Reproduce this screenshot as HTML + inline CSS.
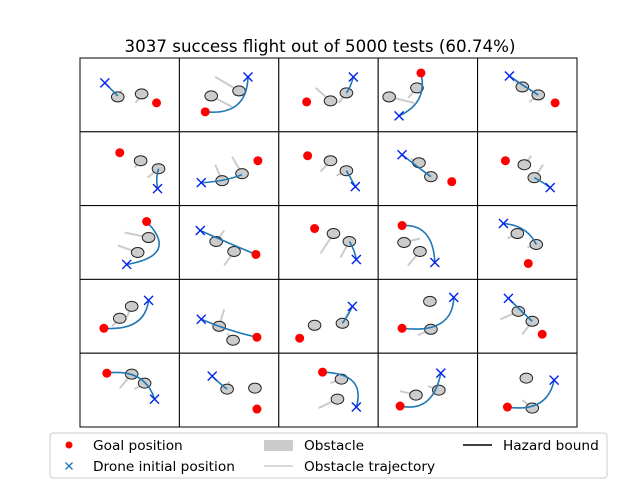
<!DOCTYPE html>
<html><head><meta charset="utf-8"><style>
body{margin:0;background:#fff;width:640px;height:480px;overflow:hidden}
svg{display:block;font-family:"DejaVu Sans","Liberation Sans",sans-serif}
</style></head><body>
<svg id="fig" width="640" height="480" viewBox="0 0 640 480">
<text x="320" y="52" text-anchor="middle" font-size="16.7" fill="#000">3037 success flight out of 5000 tests (60.74%)</text>
<g id="cells"></g>
<g>
<rect x="50" y="433" width="557" height="45" rx="3" fill="#fff" stroke="#ccc"/>
<circle cx="69" cy="445" r="3.5" fill="#ff0000"/>
<text x="93" y="450" font-size="13.7">Goal position</text>
<path d="M65.5 462.5l7 7M72.5 462.5l-7 7" stroke="#1f77b4" stroke-width="1.3"/>
<text x="93" y="471" font-size="13.7">Drone initial position</text>
<rect x="264" y="440" width="29" height="11" fill="#cccccc"/>
<text x="304" y="450" font-size="13.7">Obstacle</text>
<line x1="264" y1="466" x2="293" y2="466" stroke="#cccccc" stroke-width="1.5"/>
<text x="304" y="471" font-size="13.7">Obstacle trajectory</text>
<line x1="463" y1="445" x2="492" y2="445" stroke="#000" stroke-width="1.5"/>
<text x="503" y="450" font-size="13.7">Hazard bound</text>
</g>
</svg>
<script>
// per-cell data in local axis units (x 0-100, y 0-74)
const goals=[[77,45],[26,54],[28,44],[43,15],[78,45],
[40,21],[79,29],[29,24],[74,50],[28,29],
[67,16],[77,49],[36,23],[24,20],[51,58],
[24,49],[78,58],[21,59],[24,49],[65,55],
[27,20],[78,56],[44,19],[22,53],[30,54]];
const starts=[[25,25],[69,19],[75,19],[21,58],[32,18],
[78,57],[22,51],[77,55],[24,23],[73,56],
[47,59],[21,25],[78,54],[57,57],[26,18],
[69,21],[22,40],[74,27],[76,18],[31,19],
[75,46],[33,23],[78,54],[63,20],[77,27]];
const obstacles=[
[[38,39,42,32],[62,36,56,45]],[[32,38,53,49],[60,33,36,19]],[[52,43,37,30],[68,35,60,45]],[[11,39,36,45],[39,30,30,40]],[[45,29,36,22],[61,37,52,44]],
[[61,29,55,36],[79,37,68,46]],[[43,49,36,33],[63,42,53,25]],[[52,29,42,40],[68,39,58,44]],[[41,31,33,27],[53,45,46,40]],[[47,33,54,24],[57,46,66,33]],
[[69,32,45,27],[58,47,38,40]],[[37,36,45,25],[55,46,45,60]],[[55,28,42,48],[71,36,62,52]],[[26,37,42,33],[42,46,30,60]],[[40,28,30,33],[59,39,50,42]],
[[52,27,47,38],[40,39,32,47]],[[40,47,45,30],[54,61,48,54]],[[36,46,36,46],[64,44,72,30]],[[52,22,52,22],[53,50,40,56]],[[41,32,23,40],[55,42,45,55]],
[[52,21,40,35],[65,30,55,36]],[[48,36,50,28],[76,35,76,35]],[[63,26,52,30],[59,46,40,55]],[[61,37,50,33],[38,42,22,38]],[[49,25,49,25],[55,55,45,47]]];
// path: start, control, end (quadratic)
const paths=[[25,25,31,31,38,38],[69,19,68,58,26,54],[75,19,72,30,68,35],[21,58,50,45,43,15],[32,18,46,28,61,37],
[78,57,76,46,79,37],[22,51,45,50,63,43],[77,55,72,46,68,39],[24,23,38,34,53,45],[73,56,65,50,57,46],
[47,59,100,50,67,16],[21,25,50,38,77,49],[78,54,76,44,71,36],[57,57,55,18,24,20],[26,18,50,20,59,39],
[69,21,65,52,24,49],[22,40,50,52,78,58],[74,27,70,36,64,44],[76,18,75,55,24,49],[31,19,43,31,55,42],
[27,20,65,15,75,46],[33,23,40,30,48,36],[44,19,88,20,78,54],[63,20,55,60,22,53],[77,27,70,60,30,54]];
const colEdges=[80,179.4,278.8,378.2,477.6,577];
const rowEdges=[58,131.8,205.6,279.4,353.2,427];
const NS="http://www.w3.org/2000/svg";
const g=document.getElementById('cells');
function mk(t,a){const e=document.createElementNS(NS,t);for(const k in a)e.setAttribute(k,a[k]);return e;}
for(let i=0;i<25;i++){
 const r=Math.floor(i/5),c=i%5;
 const x0=colEdges[c],y0=rowEdges[r],w=colEdges[c+1]-x0,h=rowEdges[r+1]-y0;
 const sx=v=>x0+v*w/100, sy=v=>y0+v*h/74;
 const cell=mk('g',{});
 
 
 const fr=mk('rect',{x:x0,y:y0,width:w,height:h,fill:'#fff',stroke:'none'});
 
 
 cell.appendChild(fr);
 obstacles[i].forEach(o=>{
  const l=mk('line',{x1:sx(o[0]),y1:sy(o[1]),x2:sx(o[2]),y2:sy(o[3]),stroke:'#cccccc','stroke-width':2});
  
  
  cell.appendChild(l);
 });
 obstacles[i].forEach(o=>{
  const e=mk('ellipse',{cx:sx(o[0]),cy:sy(o[1]),rx:6.3,ry:5,fill:'#cccccc',stroke:'#222','stroke-width':1});
  
  
  cell.appendChild(e);
 });
 const p=paths[i];
 const pa=mk('path',{d:`M${sx(p[0])} ${sy(p[1])}Q${sx(p[2])} ${sy(p[3])} ${sx(p[4])} ${sy(p[5])}`,fill:'none',stroke:'#1f77b4','stroke-width':1.6});
 
 
 cell.appendChild(pa);
 const gd=mk('circle',{cx:sx(goals[i][0]),cy:sy(goals[i][1]),r:4.5,fill:'#ff0000'});
 
 
 cell.appendChild(gd);
 const X=sx(starts[i][0]),Y=sy(starts[i][1]);
 const cr=mk('path',{d:`M${X-4.5} ${Y-4.5}L${X+4.5} ${Y+4.5}M${X+4.5} ${Y-4.5}L${X-4.5} ${Y+4.5}`,stroke:'#0022ee','stroke-width':1.4});
 
 
 cell.appendChild(cr);
 const bd=mk('rect',{x:x0,y:y0,width:w,height:h,fill:'none',stroke:'#000','stroke-width':1});
 
 
 cell.appendChild(bd);
 g.appendChild(cell);
}
</script>
</body></html>
